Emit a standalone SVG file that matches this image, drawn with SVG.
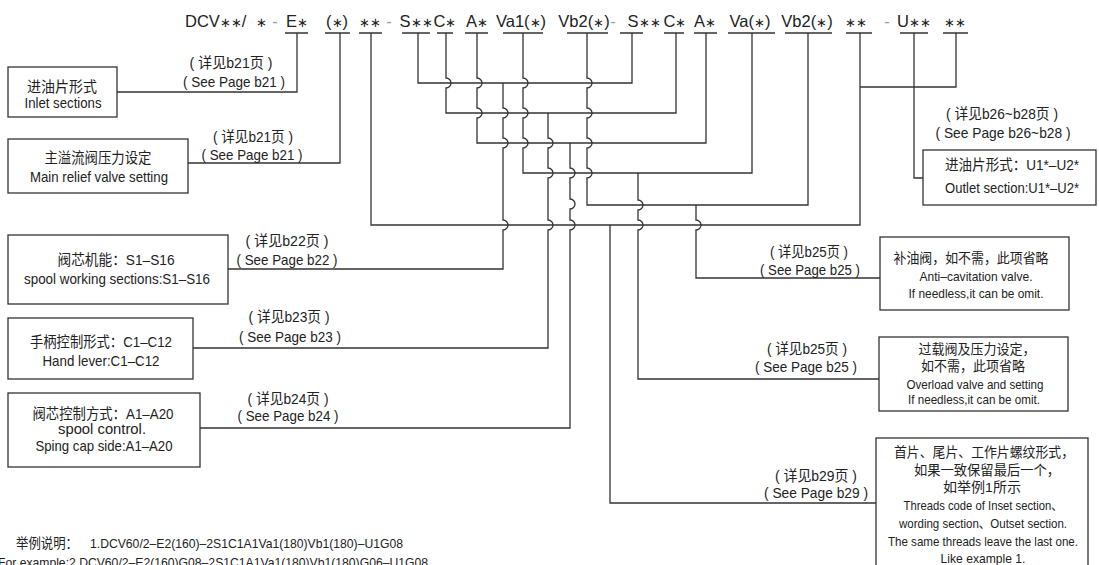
<svg xmlns="http://www.w3.org/2000/svg" width="1099" height="565" viewBox="0 0 1099 565">
<style>
.ln{fill:none;stroke:#333;stroke-width:1.3}
.box{fill:#fff;stroke:#333;stroke-width:1.3}
text{font-family:"Liberation Sans","Noto Sans CJK SC",sans-serif;fill:#222}
.hd{font-size:16.5px;text-anchor:middle}
.a{font-size:13px}
.gr{fill:#999}
.lb{font-size:14.5px;text-anchor:middle}
.bx{font-size:15px;text-anchor:middle}
.rb{font-size:13.5px;text-anchor:middle}
.ex{font-size:13px}
</style>
<rect width="1099" height="565" fill="#fff"/>

<g id="code">
<text x="185" y="27" style="font-size:16.5px">DCV<tspan class="a">∗∗</tspan>/</text>
<text class="hd" x="261" y="27"><tspan class="a">∗</tspan></text>
<text class="hd gr" x="275" y="27">-</text>
<text class="hd" x="297" y="27">E<tspan class="a">∗</tspan></text>
<text class="hd" x="337" y="27">(<tspan class="a">∗</tspan>)</text>
<text class="hd" x="370" y="27"><tspan class="a">∗∗</tspan></text>
<text class="hd gr" x="389" y="27">-</text>
<text class="hd" x="416" y="27">S<tspan class="a">∗∗</tspan></text>
<text class="hd" x="445" y="27">C<tspan class="a">∗</tspan></text>
<text class="hd" x="477" y="27">A<tspan class="a">∗</tspan></text>
<text class="hd" x="521" y="27">Va1(<tspan class="a">∗</tspan>)</text>
<text class="hd" x="584" y="27">Vb2(<tspan class="a">∗</tspan>)</text>
<text class="hd gr" x="613" y="27">-</text>
<text class="hd" x="644" y="27">S<tspan class="a">∗∗</tspan></text>
<text class="hd" x="675" y="27">C<tspan class="a">∗</tspan></text>
<text class="hd" x="705" y="27">A<tspan class="a">∗</tspan></text>
<text class="hd" x="750" y="27">Va(<tspan class="a">∗</tspan>)</text>
<text class="hd" x="807" y="27">Vb2(<tspan class="a">∗</tspan>)</text>
<text class="hd" x="856" y="27"><tspan class="a">∗∗</tspan></text>
<text class="hd gr" x="887" y="27">-</text>
<text class="hd" x="914" y="27">U<tspan class="a">∗∗</tspan></text>
<text class="hd" x="955" y="27"><tspan class="a">∗∗</tspan></text>
<path class="ln" d="M285,33H308M325,33H350M359,33H382M402,33H430M437,33H453M465,33H488M503,33H543M567,33H608M620,33H643M664,33H684M694,33H717M728,33H775M785,33H832M846,33H872M900,33H928M943,33H968"/>
</g>

<g id="connectors">
<path class="ln" d="M297,33V92H117"/>
<path class="ln" d="M340,33V163H188"/>
<path class="ln" d="M371,33V225H860V33"/>
<path class="ln" d="M956,33V87H860"/>
<path class="ln" d="M914,33V178H923"/>
<path class="ln" d="M418,33V83H632V33"/>
<path class="ln" d="M503,83V108A5,5 0 0 1 503,118V138A5,5 0 0 1 503,148V220A5,5 0 0 1 503,230V269H228"/>
<path class="ln" d="M446,33V78A5,5 0 0 1 446,88V113H676V33"/>
<path class="ln" d="M548,113V138A5,5 0 0 1 548,148V168A5,5 0 0 1 548,178V220A5,5 0 0 1 548,230V348H193"/>
<path class="ln" d="M477,33V78A5,5 0 0 1 477,88V108A5,5 0 0 1 477,118V143H706V33"/>
<path class="ln" d="M570,143V168A5,5 0 0 1 570,178V199A5,5 0 0 1 570,209V220A5,5 0 0 1 570,230V428H200"/>
<path class="ln" d="M523,33V78A5,5 0 0 1 523,88V108A5,5 0 0 1 523,118V138A5,5 0 0 1 523,148V173H752V33"/>
<path class="ln" d="M638,173V200A5,5 0 0 1 638,210V220A5,5 0 0 1 638,230V379H879"/>
<path class="ln" d="M587,33V78A5,5 0 0 1 587,88V108A5,5 0 0 1 587,118V138A5,5 0 0 1 587,148V168A5,5 0 0 1 587,178V205H808V33"/>
<path class="ln" d="M696,205V220A5,5 0 0 1 696,230V278H880"/>
<path class="ln" d="M610,225V503H876"/>
</g>

<g id="labels">
<text class="lb" x="231" y="68" textLength="83" lengthAdjust="spacingAndGlyphs">( 详见b21页 )</text>
<text class="lb" x="234" y="87" textLength="102" lengthAdjust="spacingAndGlyphs">( See Page b21 )</text>
<text class="lb" x="253" y="142" textLength="80" lengthAdjust="spacingAndGlyphs">( 详见b21页 )</text>
<text class="lb" x="252" y="160" textLength="101" lengthAdjust="spacingAndGlyphs">( See Page b21 )</text>
<text class="lb" x="287" y="246" textLength="83" lengthAdjust="spacingAndGlyphs">( 详见b22页 )</text>
<text class="lb" x="287" y="265" textLength="101" lengthAdjust="spacingAndGlyphs">( See Page b22 )</text>
<text class="lb" x="289" y="322" textLength="81" lengthAdjust="spacingAndGlyphs">( 详见b23页 )</text>
<text class="lb" x="290" y="342" textLength="102" lengthAdjust="spacingAndGlyphs">( See Page b23 )</text>
<text class="lb" x="288" y="404" textLength="81" lengthAdjust="spacingAndGlyphs">( 详见b24页 )</text>
<text class="lb" x="288" y="421" textLength="101" lengthAdjust="spacingAndGlyphs">( See Page b24 )</text>
<text class="lb" x="1002" y="119" textLength="112" lengthAdjust="spacingAndGlyphs">( 详见b26~b28页 )</text>
<text class="lb" x="1003" y="138" textLength="135" lengthAdjust="spacingAndGlyphs">( See Page b26~b28 )</text>
<text class="lb" x="809" y="257" textLength="78" lengthAdjust="spacingAndGlyphs">( 详见b25页 )</text>
<text class="lb" x="810" y="275" textLength="100" lengthAdjust="spacingAndGlyphs">( See Page b25 )</text>
<text class="lb" x="807" y="354" textLength="80" lengthAdjust="spacingAndGlyphs">( 详见b25页 )</text>
<text class="lb" x="806" y="372" textLength="102" lengthAdjust="spacingAndGlyphs">( See Page b25 )</text>
<text class="lb" x="816" y="481" textLength="82" lengthAdjust="spacingAndGlyphs">( 详见b29页 )</text>
<text class="lb" x="816" y="498" textLength="104" lengthAdjust="spacingAndGlyphs">( See Page b29 )</text>
</g>

<g id="inlet">
<rect class="box" x="8" y="67" width="109" height="50"/>
<text class="bx" x="62" y="92" textLength="70" lengthAdjust="spacingAndGlyphs">进油片形式</text>
<text class="bx" x="63" y="108" textLength="77" lengthAdjust="spacingAndGlyphs">Inlet sections</text>
</g>

<g id="mainrelief">
<rect class="box" x="8" y="139" width="180" height="54"/>
<text class="bx" x="98" y="163" textLength="107" lengthAdjust="spacingAndGlyphs">主溢流阀压力设定</text>
<text class="bx" x="99" y="182" textLength="138" lengthAdjust="spacingAndGlyphs">Main relief valve setting</text>
</g>

<g id="spool">
<rect class="box" x="8" y="235" width="220" height="69"/>
<text class="bx" x="116" y="265" textLength="117" lengthAdjust="spacingAndGlyphs">阀芯机能：S1–S16</text>
<text class="bx" x="117" y="284" textLength="186" lengthAdjust="spacingAndGlyphs">spool working sections:S1–S16</text>
</g>

<g id="handlever">
<rect class="box" x="8" y="318" width="185" height="61"/>
<text class="bx" x="101" y="347" textLength="142" lengthAdjust="spacingAndGlyphs">手柄控制形式：C1–C12</text>
<text class="bx" x="101" y="366" textLength="117" lengthAdjust="spacingAndGlyphs">Hand lever:C1–C12</text>
</g>

<g id="spoolcontrol">
<rect class="box" x="8" y="393" width="192" height="74"/>
<text class="bx" x="103" y="419" textLength="141" lengthAdjust="spacingAndGlyphs">阀芯控制方式：A1–A20</text>
<text class="bx" x="102" y="434" textLength="88" lengthAdjust="spacingAndGlyphs">spool control.</text>
<text class="bx" x="104" y="451" textLength="137" lengthAdjust="spacingAndGlyphs">Sping cap side:A1–A20</text>
</g>

<g id="outlet">
<rect class="box" x="923" y="150" width="173" height="55"/>
<text class="bx" x="1012" y="170" textLength="134" lengthAdjust="spacingAndGlyphs">进油片形式：U1*–U2*</text>
<text class="bx" x="1012" y="193" textLength="134" lengthAdjust="spacingAndGlyphs">Outlet section:U1*–U2*</text>
</g>

<g id="anticav">
<rect class="box" x="880" y="237" width="189" height="73"/>
<text class="rb" x="971" y="263" textLength="155" lengthAdjust="spacingAndGlyphs">补油阀，如不需，此项省略</text>
<text class="rb" x="976" y="281" textLength="113" lengthAdjust="spacingAndGlyphs">Anti–cavitation valve.</text>
<text class="rb" x="976" y="298" textLength="135" lengthAdjust="spacingAndGlyphs">If needless,it can be omit.</text>
</g>

<g id="overload">
<rect class="box" x="879" y="337" width="189" height="74"/>
<text class="rb" x="977" y="354" textLength="117" lengthAdjust="spacingAndGlyphs">过载阀及压力设定，</text>
<text class="rb" x="973" y="371" textLength="104" lengthAdjust="spacingAndGlyphs">如不需，此项省略</text>
<text class="rb" x="975" y="389" textLength="137" lengthAdjust="spacingAndGlyphs">Overload valve and setting</text>
<text class="rb" x="974" y="404" textLength="132" lengthAdjust="spacingAndGlyphs">If needless,it can be omit.</text>
</g>

<g id="threads">
<rect class="box" x="876" y="438" width="212" height="140"/>
<text class="rb" x="984" y="457" textLength="180" lengthAdjust="spacingAndGlyphs">首片、尾片、工作片螺纹形式，</text>
<text class="rb" x="987" y="475" textLength="146" lengthAdjust="spacingAndGlyphs">如果一致保留最后一个，</text>
<text class="rb" x="982" y="492" textLength="78" lengthAdjust="spacingAndGlyphs">如举例1所示</text>
<text class="rb" x="983" y="510" textLength="159" lengthAdjust="spacingAndGlyphs">Threads code of Inset section、</text>
<text class="rb" x="983" y="528" textLength="168" lengthAdjust="spacingAndGlyphs">wording section、Outset section.</text>
<text class="rb" x="983" y="546" textLength="190" lengthAdjust="spacingAndGlyphs">The same threads leave the last one.</text>
<text class="rb" x="983" y="563" textLength="85" lengthAdjust="spacingAndGlyphs">Like example 1.</text>
</g>

<g id="examples">
<text x="16" y="548" style="font-size:14px" textLength="62" lengthAdjust="spacingAndGlyphs">举例说明：</text>
<text class="ex" x="90" y="548" textLength="313" lengthAdjust="spacingAndGlyphs">1.DCV60/2–E2(160)–2S1C1A1Va1(180)Vb1(180)–U1G08</text>
<text class="ex" x="-2" y="567" textLength="430" lengthAdjust="spacingAndGlyphs">For example:2.DCV60/2–E2(160)G08–2S1C1A1Va1(180)Vb1(180)G06–U1G08</text>
</g>
</svg>
